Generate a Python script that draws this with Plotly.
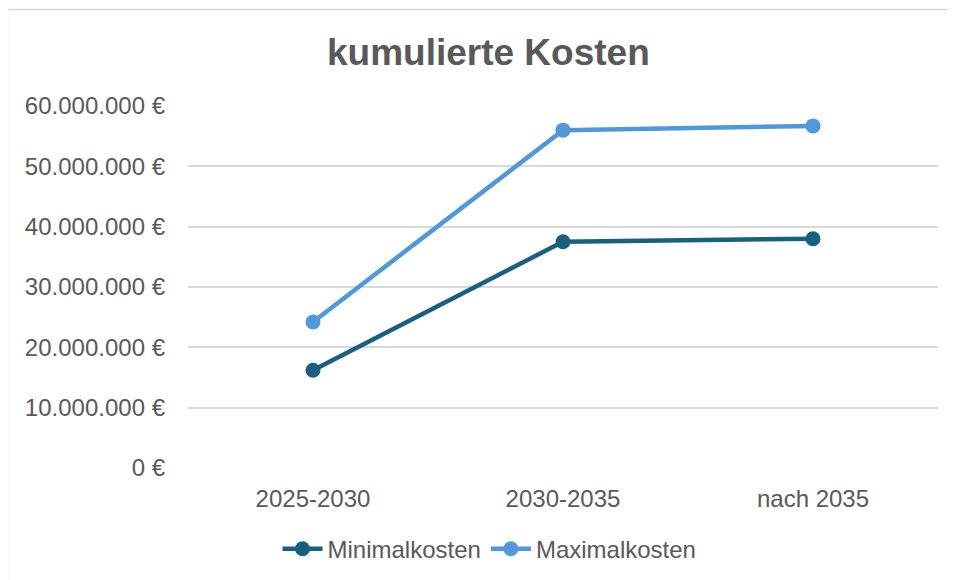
import plotly.graph_objects as go

# Daten
kategorien = ["2025-2030", "2030-2035", "nach 2035"]
minimalkosten = [16_200_000, 37_500_000, 38_000_000]
maximalkosten = [24_200_000, 56_000_000, 56_700_000]
y_ticks = [0, 10_000_000, 20_000_000, 30_000_000, 40_000_000, 50_000_000, 60_000_000]

FONT = "Liberation Sans, Arial, sans-serif"
TEXT_COLOR = "#595959"
GRID_COLOR = "#d9d9d9"


def euro(v):
    # deutsches Zahlenformat: 60.000.000 €
    return f"{v:,.0f}".replace(",", ".") + " €"


fig = go.Figure()

fig.add_trace(go.Scatter(
    x=kategorien, y=minimalkosten, name="Minimalkosten",
    mode="lines+markers",
    line=dict(color="#185F82", width=4.5),
    marker=dict(color="#185F82", size=15),
))
fig.add_trace(go.Scatter(
    x=kategorien, y=maximalkosten, name="Maximalkosten",
    mode="lines+markers",
    line=dict(color="#5098DA", width=4.5),
    marker=dict(color="#5098DA", size=15),
))

# Rahmen um das Diagramm (rechts/unten ausserhalb des Bildes)
fig.add_shape(
    type="rect", xref="paper", yref="paper",
    x0=-0.2407, x1=1.06, y0=-0.4, y1=1.2666,
    line=dict(color=GRID_COLOR, width=1.5),
    fillcolor="rgba(0,0,0,0)", layer="below",
)

# Seite hat ~8px Rand -> Ränder entsprechend verschoben
fig.update_layout(
    width=955, height=580,
    paper_bgcolor="white", plot_bgcolor="white",
    margin=dict(l=180, r=25, t=98, b=120),
    font=dict(family=FONT, color=TEXT_COLOR, size=24),
    title=dict(
        text="<b>kumulierte Kosten</b>",
        font=dict(family=FONT, size=37, color=TEXT_COLOR),
        x=0.503, xanchor="center", xref="container",
        y=1 - 44 / 580, yanchor="middle", yref="container",
    ),
    xaxis=dict(
        range=[-0.5, 2.5], showgrid=False, showline=False, zeroline=False,
        tickfont=dict(size=24, color=TEXT_COLOR), ticks="", ticklabelstandoff=14,
    ),
    yaxis=dict(
        range=[0, 60_000_000], tickvals=y_ticks, ticktext=[euro(v) for v in y_ticks],
        showgrid=True, gridcolor=GRID_COLOR, gridwidth=1.5,
        zeroline=False, showline=False, ticks="", ticklabelstandoff=22,
        tickfont=dict(size=24, color=TEXT_COLOR),
    ),
    legend=dict(
        orientation="h", x=0.402, xanchor="center", y=-0.224, yanchor="middle",
        font=dict(size=24, color=TEXT_COLOR), itemwidth=40,
    ),
    showlegend=True,
)

fig.write_html("out.html")
